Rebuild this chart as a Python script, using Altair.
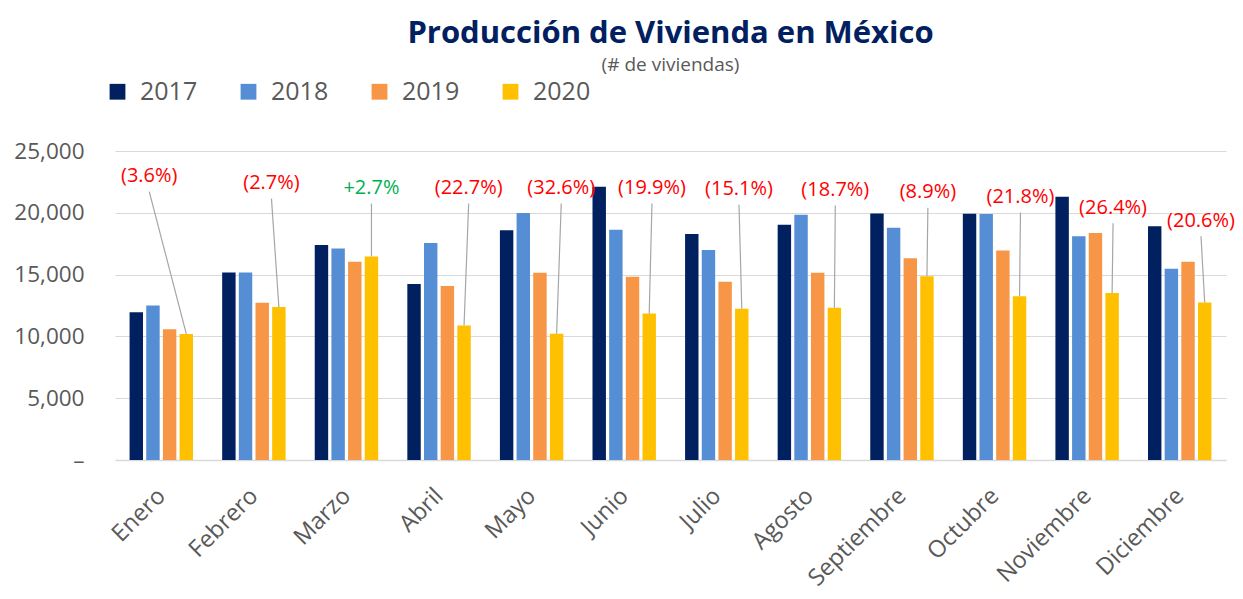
import altair as alt
import pandas as pd

months = ["Enero", "Febrero", "Marzo", "Abril", "Mayo", "Junio", "Julio",
          "Agosto", "Septiembre", "Octubre", "Noviembre", "Diciembre"]
years = ["2017", "2018", "2019", "2020"]
v2017 = [11960, 15170, 17390, 14230, 18580, 22100, 18280, 19040, 19950, 19930, 21300, 18920]
v2018 = [12500, 15170, 17120, 17550, 19980, 18630, 17000, 19850, 18790, 19900, 18110, 15470]
v2019 = [10580, 12720, 16040, 14070, 15150, 14820, 14420, 15150, 16330, 16950, 18360, 16040]
v2020 = [10200, 12380, 16470, 10880, 10210, 11850, 12230, 12310, 14870, 13250, 13510, 12740]
pct_labels = ["(3.6%)", "(2.7%)", "+2.7%", "(22.7%)", "(32.6%)", "(19.9%)",
              "(15.1%)", "(18.7%)", "(8.9%)", "(21.8%)", "(26.4%)", "(20.6%)"]
# annotation placement (label centre, in month / value units)
label_dx = [-0.13, 0.19, 0.27, 0.32, 0.32, 0.30, 0.24, 0.28, 0.28, 0.28, 0.28, 0.23]
label_y = [22970, 22400, 22000, 22000, 22000, 22000, 21900, 21850, 21650, 21270, 20400, 19350]

series = {"2017": v2017, "2018": v2018, "2019": v2019, "2020": v2020}
rows = []
for j, yr in enumerate(years):
    for i, m in enumerate(months):
        rows.append({"mi": i, "month": m, "year": yr, "yi": j, "value": series[yr][i]})
bars_df = pd.DataFrame(rows)

ann_df = pd.DataFrame({
    "mi": list(range(len(months))),
    "pct": pct_labels,
    "dx": label_dx,
    "ly": label_y,
    "v2020": v2020,
})

FONT = "Open Sans"
GREY = "#595959"
colors = ["#002060", "#558ED5", "#F79646", "#FFC000"]

month_expr = "[" + ",".join("'" + m + "'" for m in months) + "][datum.value]"

xscale = alt.Scale(domain=[-0.5, 11.5], nice=False, zero=False)
yscale = alt.Scale(domain=[0, 25000], nice=False)

bars = alt.Chart(bars_df).transform_calculate(
    xc="datum.mi + (datum.yi - 1.5) * 0.18"
).transform_calculate(
    x0="datum.xc - 0.0725", x1="datum.xc + 0.0725"
).mark_bar().encode(
    x=alt.X("x0:Q", scale=xscale,
            axis=alt.Axis(values=list(range(12)), labelExpr=month_expr, title=None,
                          grid=False, ticks=False, domain=True, domainColor="#D9D9D9",
                          domainWidth=1.5, labelAngle=-45, labelAlign="right",
                          labelBaseline="middle", labelFontSize=23.5, labelColor=GREY,
                          labelFont=FONT, labelPadding=32, labelOffset=0,
                          labelOverlap=False, labelBound=False, labelFlush=False)),
    x2="x1:Q",
    y=alt.Y("value:Q", scale=yscale,
            axis=alt.Axis(values=[0, 5000, 10000, 15000, 20000, 25000],
                          labelExpr="datum.value == 0 ? '–' : format(datum.value, ',')",
                          title=None, grid=True, gridColor="#D9D9D9", gridWidth=1.2,
                          ticks=False, domain=False, labelFontSize=22.5, labelColor=GREY,
                          labelFont=FONT, labelPadding=31)),
    y2=alt.datum(0),
    color=alt.Color("year:N", scale=alt.Scale(domain=years, range=colors),
                    legend=alt.Legend(orient="none", legendX=-10, legendY=-72,
                                      direction="horizontal", title=None,
                                      symbolType="square", symbolSize=250,
                                      symbolStrokeWidth=0, labelFontSize=25,
                                      labelColor=GREY, labelFont=FONT, labelOffset=10,
                                      columnPadding=38)),
)

leaders = alt.Chart(ann_df).transform_calculate(
    lx="datum.mi + datum.dx", bx="datum.mi + 0.27", ltop="datum.ly - 1250"
).mark_rule(color="#A6A6A6", strokeWidth=1.2).encode(
    x=alt.X("lx:Q", scale=xscale),
    x2="bx:Q",
    y=alt.Y("ltop:Q", scale=yscale),
    y2="v2020:Q",
)

texts = alt.Chart(ann_df).transform_calculate(
    lx="datum.mi + datum.dx"
).mark_text(font=FONT, fontSize=20, align="center", baseline="middle").encode(
    x=alt.X("lx:Q", scale=xscale),
    y=alt.Y("ly:Q", scale=yscale),
    text="pct:N",
    color=alt.condition("indexof(datum.pct, '+') == 0", alt.value("#00B050"), alt.value("#FF0000")),
)

chart = alt.layer(bars, leaders, texts).properties(
    width=1111, height=309,
    autosize=alt.AutoSizeParams(type="none"),
    padding={"left": 107, "top": 143, "right": 9, "bottom": 131},
    title=alt.TitleParams("Producción de Vivienda en México", subtitle="(# de viviendas)",
                          font=FONT, fontSize=31, fontWeight="bold", color="#002060",
                          subtitleFont=FONT, subtitleFontSize=19, subtitleColor=GREY,
                          subtitlePadding=6, anchor="middle", offset=3),
).configure_view(stroke=None)

chart.save("out.html", embed_options={"renderer": "svg", "actions": False})
